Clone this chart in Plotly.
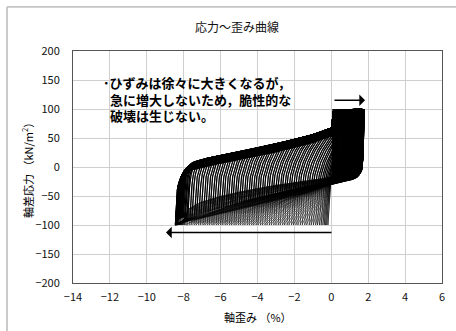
import numpy as np
import plotly.graph_objects as go

# ── 読み取り値 ────────────────────────────────────────────────────────────────
# 繰返し載荷の各サイクル：伸張側ピーク（σ=-100）と圧縮側ピーク（σ=+100）の軸ひずみ (%)
NEG_PEAK_GROW = [
    -0.12, -0.18, -0.25, -0.31, -0.38, -0.46, -0.55, -0.64, -0.75, -0.85,
    -0.97, -1.09, -1.20, -1.33, -1.44, -1.57, -1.68, -1.81, -1.92, -2.05,
    -2.16, -2.29, -2.40, -2.53, -2.64, -2.77, -2.88, -3.01, -3.12, -3.25,
    -3.36, -3.49, -3.60, -3.73, -3.84, -3.97, -4.08, -4.21, -4.32, -4.45,
    -4.56, -4.69, -4.80, -4.93, -5.04, -5.17, -5.28, -5.41, -5.52, -5.65,
    -5.76, -5.89, -6.00, -6.13, -6.24, -6.37, -6.48, -6.61, -6.72, -6.85,
    -6.96, -7.09, -7.20, -7.33, -7.44, -7.57, -7.68, -7.80,
]
POS_PEAK_GROW = [
    0.10, 0.12, 0.13, 0.15, 0.16, 0.18, 0.20, 0.22, 0.24, 0.26,
    0.28, 0.30, 0.33, 0.35, 0.37, 0.40, 0.42, 0.44, 0.47, 0.49,
    0.51, 0.54, 0.56, 0.58, 0.61, 0.63, 0.65, 0.68, 0.70, 0.72,
    0.75, 0.77, 0.79, 0.82, 0.84, 0.86, 0.89, 0.91, 0.93, 0.96,
    0.98, 1.00, 1.03, 1.05, 1.07, 1.10, 1.12, 1.14, 1.17, 1.19,
    1.21, 1.24, 1.26, 1.28, 1.31, 1.33, 1.35, 1.38, 1.40, 1.42,
    1.45, 1.47, 1.49, 1.52, 1.54, 1.56, 1.59, 1.62,
]
NEG_PEAK_LATE = [
    -7.86, -7.93, -7.98, -8.04, -8.08, -8.12, -8.16, -8.19, -8.22, -8.25,
    -8.27, -8.29, -8.31, -8.33, -8.35, -8.36, -8.37, -8.38, -8.39, -8.40,
    -8.41, -8.42, -8.42, -8.43, -8.43, -8.44, -8.44, -8.45, -8.45, -8.45,
]
POS_PEAK_LATE = [
    1.64, 1.66, 1.67, 1.68, 1.69, 1.70, 1.70, 1.71, 1.72, 1.72,
    1.73, 1.73, 1.74, 1.74, 1.75, 1.75, 1.75, 1.76, 1.76, 1.76,
    1.76, 1.77, 1.77, 1.77, 1.77, 1.77, 1.77, 1.77, 1.77, 1.77,
]
# 後半サイクルの上側包絡線の低下量 (kN/m2)
DROP_LATE = [
    0.0, -0.4, -0.9, -1.3, -1.8, -2.2, -2.7, -3.1, -3.6, -4.0,
    -4.5, -4.9, -5.4, -5.8, -6.3, -6.7, -7.2, -7.6, -8.1, -8.5,
    -9.0, -9.4, -9.9, -10.3, -10.8, -11.2, -11.7, -12.1, -12.6, -13.0,
]

# 再載荷時の上側包絡線（応力 → ひずみ）
UPPER_S = [-100, -20, -2, 8, 15, 26, 38, 52, 66, 80, 95, 97, 100]
UPPER_X = [-11.0, -8.40, -8.05, -7.60, -6.75, -4.95, -3.16, -1.33, 0.0, 0.08, 0.11, 0.20, 3.0]
# 再載荷の立ち上がり（ピークからのひずみ増分）
RISE_S = [-100, -80, -50, -20, 0, 20, 40, 60, 100]
RISE_X = [0.0, 0.03, 0.08, 0.15, 0.30, 0.55, 0.90, 1.40, 3.0]
# 除荷直後の戻り（最大 1.77% のときの値）
BACK_S = [-24, -16, -10, 0, 20, 60, 100]
BACK_X = [1.00, 0.60, 0.30, 0.12, 0.05, 0.02, 0.0]
# ブロック下端（応力 → ひずみ上限）
FLOOR_S = [-24, -20, -16, -12, -8, 100]
FLOOR_X = [0.0, 0.45, 1.10, 1.60, 3.0, 3.0]
# 伸張側への除荷曲線の形（上端・下端）
BEND_T = [0.0, 0.10, 0.21, 0.35, 0.50, 0.66, 0.80, 1.0]
BEND_HI = [0.0, 0.25, 0.47, 0.70, 0.88, 0.98, 0.995, 1.0]
BEND_T2 = [0.0, 0.15, 0.30, 0.50, 0.70, 0.85, 0.96, 1.0]
BEND_LO = [0.0, 0.10, 0.25, 0.47, 0.70, 0.87, 0.98, 1.0]
# 斜めの濃い帯（中心線）
DIAG_X = [-8.4, -8.3, -4.0, 0.0, 2.0]
DIAG_S = [-95, -86, -51, -22, -22]

X_TICKS = [-14, -12, -10, -8, -6, -4, -2, 0, 2, 4, 6]
Y_TICKS = [-200, -150, -100, -50, 0, 50, 100, 150, 200]

NOTE_LINES = [
    "･ひずみは徐々に大きくなるが，",
    "急に増大しないため，脆性的な",
    "破壊は生じない。",
]
NOTE_X = [-12.5, -12.1, -12.1]
NOTE_Y = [145.3, 116.7, 88.0]

FONT = "Noto Sans CJK JP"
S_UP = np.linspace(-100, 100, 201)


def smax(a, b, k):
    return np.logaddexp(k * a, k * b) / k


def smin(a, b, k):
    return -smax(-a, -b, k)


def reload(e, p, drop):
    base = e + np.interp(S_UP, RISE_S, RISE_X)
    env = np.interp(S_UP - drop, UPPER_S, UPPER_X)
    x = smin(smax(base, env, 12), p, 40)
    x[0], x[-1] = e, p
    return x, S_UP


def unload(p, e_next, w, shift):
    s_j = -24.0 + shift
    s1 = np.linspace(100, s_j, 63)
    x1 = smin(p - (p / 1.77) * np.interp(s1 - shift, BACK_S, BACK_X),
              np.interp(s1 - shift, FLOOR_S, FLOOR_X), 15)
    x1[0] = p
    xj = x1[-1]
    s2 = np.linspace(s_j, -100, 77)[1:]
    t = (s_j - s2) / (s_j + 100)
    h = (1 - w) * np.interp(t, BEND_T, BEND_HI) + w * np.interp(t, BEND_T2, BEND_LO)
    x2 = xj + (e_next - xj) * h
    return (x1, s1), (x2, s2)


neg = NEG_PEAK_GROW + NEG_PEAK_LATE
pos = POS_PEAK_GROW + POS_PEAK_LATE
drop = [0.0] * len(NEG_PEAK_GROW) + DROP_LATE
weight = [0.6] * len(NEG_PEAK_GROW) + [d / min(DROP_LATE) for d in DROP_LATE]
lower_shift = [0.0] * len(NEG_PEAK_GROW) + [6.0 - 12.0 * d / min(DROP_LATE) for d in DROP_LATE]

xs, ys = [np.array([0.0])], [np.array([0.0])]
hx, hy = [], []  # 濃く見える部分（再載荷の上半分・除荷の圧縮側）
for i in range(len(neg)):
    xr, sr = reload(neg[i], pos[i], drop[i])
    if i == 0:
        keep = sr >= 0
        xr, sr = xr[keep], sr[keep]
    upper = sr >= np.interp(neg[i], DIAG_X, DIAG_S) - 4
    e_next = neg[min(i + 1, len(neg) - 1)]
    (xa, sa), (xb, sb) = unload(pos[i], e_next, weight[i], lower_shift[i])
    xs += [xr, xa, xb]
    ys += [sr, sa, sb]
    hx += list(xr[upper]) + list(xa) + [None]
    hy += list(sr[upper]) + list(sa) + [None]

fig = go.Figure()
fig.add_trace(
    go.Scatter(
        x=np.concatenate(xs),
        y=np.concatenate(ys),
        mode="lines",
        line=dict(color="#000000", width=0.6),
        hoverinfo="skip",
        showlegend=False,
    )
)
fig.add_trace(
    go.Scatter(
        x=hx,
        y=hy,
        mode="lines",
        line=dict(color="#000000", width=1.2),
        connectgaps=False,
        hoverinfo="skip",
        showlegend=False,
    )
)

# 矢印
fig.add_annotation(x=1.83, y=115, ax=0.09, ay=115, xref="x", yref="y", axref="x", ayref="y",
                   text="", showarrow=True, arrowhead=1, arrowsize=1.2, arrowwidth=1.6,
                   arrowcolor="#000000")
fig.add_annotation(x=-8.96, y=-113, ax=0.09, ay=-113, xref="x", yref="y", axref="x", ayref="y",
                   text="", showarrow=True, arrowhead=1, arrowsize=1.2, arrowwidth=1.6,
                   arrowcolor="#000000")

# 注記
for tx, nx, ny in zip(NOTE_LINES, NOTE_X, NOTE_Y):
    fig.add_annotation(x=nx, y=ny, xref="x", yref="y", text=tx, showarrow=False,
                       xanchor="left", yanchor="middle",
                       font=dict(family=FONT, size=13, color="#000000", weight="bold"))

# 軸タイトル
fig.add_annotation(x=0.5, y=-0.147, xref="paper", yref="paper", text="軸歪み （%）",
                   showarrow=False, xanchor="center", yanchor="middle",
                   font=dict(family=FONT, size=11, color="#000000"))
fig.add_annotation(x=-0.1247, y=0.5, xref="paper", yref="paper", text="軸差応力 （kN/m<sup>2</sup>）",
                   showarrow=False, textangle=-90, xanchor="center", yanchor="middle",
                   font=dict(family=FONT, size=11, color="#000000"))

# 外枠（左・上）
fig.add_shape(type="line", xref="paper", yref="paper", x0=-0.1789, x1=-0.1789, y0=1.19, y1=-0.25,
              line=dict(color="#c4c4c4", width=1.8))
fig.add_shape(type="line", xref="paper", yref="paper", x0=-0.1789, x1=1.1, y0=1.19, y1=1.19,
              line=dict(color="#c4c4c4", width=1.8))

axis_common = dict(
    showgrid=True,
    gridcolor="#cfcfcf",
    gridwidth=1,
    zeroline=False,
    showline=True,
    linecolor="#555555",
    linewidth=1,
    mirror=True,
    ticks="",
    tickfont=dict(family=FONT, size=11, color="#111111"),
)

fig.update_layout(
    width=456,
    height=331,
    paper_bgcolor="#FFFFFF",
    plot_bgcolor="#FFFFFF",
    margin=dict(l=73, r=14, t=51, b=48),
    title=dict(text="応力～歪み曲線", x=0.52, xref="container", xanchor="center",
               y=0.915, yref="container", yanchor="middle",
               font=dict(family=FONT, size=12, color="#111111")),
    xaxis=dict(range=[-14, 6], tickvals=X_TICKS, ticklabelstandoff=4, **axis_common),
    yaxis=dict(range=[-200, 200], tickvals=Y_TICKS, ticklabelstandoff=10, **axis_common),
    showlegend=False,
)

fig.write_html("out.html", config={"displayModeBar": False},
               post_script="document.body.style.margin='0';")
